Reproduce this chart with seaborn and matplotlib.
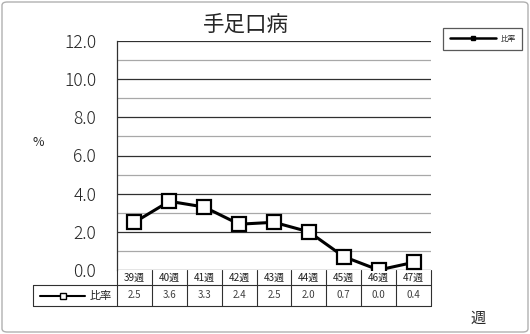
import matplotlib
matplotlib.use("Agg")
import matplotlib.pyplot as plt
from matplotlib.lines import Line2D
from matplotlib.patches import FancyBboxPatch
import seaborn as sns
import pandas as pd

weeks = ["39週", "40週", "41週", "42週", "43週", "44週", "45週", "46週", "47週"]
ratio = [2.5, 3.6, 3.3, 2.4, 2.5, 2.0, 0.7, 0.0, 0.4]
series_name = "比率"
title = "手足口病"
y_ticks = [0, 2, 4, 6, 8, 10, 12]

sns.set_theme(style="white")
plt.rcParams["font.family"] = ["Noto Sans CJK JP", "DejaVu Sans"]

W, H = 530, 334
fig = plt.figure(figsize=(W / 100, H / 100), dpi=100)

# plot area in pixel terms
L, R, T, B = 117, 431, 41, 270
ax = fig.add_axes([L / W, 1 - B / H, (R - L) / W, (B - T) / H])

df = pd.DataFrame({"pos": range(len(weeks)), "ratio": ratio})

# gridlines: major every 2, minor every 1
for v in range(0, 13):
    if v % 2 == 0:
        ax.axhline(v, color="#303030", lw=0.9, zorder=1)
    else:
        ax.axhline(v, color="#a8a8a8", lw=0.9, zorder=1)

sns.lineplot(data=df, x="pos", y="ratio", ax=ax, color="black", lw=2.2,
             marker="s", markersize=10, markerfacecolor="white",
             markeredgecolor="black", markeredgewidth=1.6, zorder=3,
             legend=False)

ax.set_xlim(-0.5, len(weeks) - 0.5)
ax.set_ylim(0, 12)
ax.set_yticks(y_ticks)
ax.set_yticklabels([f"{v:.1f}" for v in y_ticks], fontsize=12.5,
                   fontweight="light")
ax.tick_params(axis="y", length=0, pad=15)
ax.set_xticks([])
ax.set_xlabel("")
ax.set_ylabel("")
for s in ["top", "right", "bottom"]:
    ax.spines[s].set_visible(False)
ax.spines["left"].set_color("#303030")
ax.spines["left"].set_linewidth(0.9)
ax.set_facecolor("white")

# data table beneath the plot
axh = B - T
row1 = -15 / axh
row2 = -36 / axh
left_cell = -(L - 33) / (R - L)
trans = ax.get_xaxis_transform()
lc = "#303030"
tl = dict(color=lc, lw=0.8, clip_on=False, zorder=4)
ax.plot([-0.5, len(weeks) - 0.5], [row1, row1], transform=trans, **tl)
ax.plot([left_cell, 1], [row2, row2], transform=ax.transAxes, **tl)
ax.plot([left_cell, 0], [row1, row1], transform=ax.transAxes, **tl)
ax.plot([left_cell, left_cell], [row1, row2], transform=ax.transAxes, **tl)
for i in range(len(weeks) + 1):
    x = i - 0.5
    ax.plot([x, x], [0, row2], transform=trans, **tl)
for i, (wk, v) in enumerate(zip(weeks, ratio)):
    ax.text(i, row1 / 2, wk, transform=trans, ha="center", va="center",
            fontsize=7.2, color="#202020")
    ax.text(i, (row1 + row2) / 2, f"{v:.1f}", transform=trans, ha="center",
            va="center", fontsize=7, color="#404040")

# series key inside the table's left cell
ym = (row1 + row2) / 2
x0 = left_cell + 7 / (R - L)
x1 = left_cell + 52 / (R - L)
ax.plot([x0, x1], [ym, ym], transform=ax.transAxes, color="black", lw=1.5,
        clip_on=False, zorder=5)
ax.plot([(x0 + x1) / 2], [ym], transform=ax.transAxes, marker="s",
        markersize=5, markerfacecolor="white", markeredgecolor="black",
        markeredgewidth=1.0, clip_on=False, zorder=6)
ax.text(left_cell + 57 / (R - L), ym, series_name, transform=ax.transAxes,
        ha="left", va="center", fontsize=8, color="#202020")

# title and axis labels
fig.text(246 / W, 1 - 25 / H, title, ha="center", va="center", fontsize=15.5)
fig.text(38 / W, 1 - 143 / H, "%", ha="center", va="center", fontsize=9)
fig.text(478 / W, 1 - 318 / H, "週", ha="center", va="center", fontsize=11)

# legend at top right
handle = Line2D([], [], color="black", lw=1.8, marker="s", markersize=2.5,
                markerfacecolor="black")
leg = fig.legend([handle], [series_name], loc="upper left",
                 bbox_to_anchor=(443 / W, 1 - 28 / H), fontsize=5.5,
                 frameon=True, fancybox=False, handlelength=6.0,
                 borderpad=0.9, handletextpad=0.6, borderaxespad=0)
leg.get_frame().set_edgecolor("#303030")
leg.get_frame().set_linewidth(0.9)

# outer border
fig.patches.append(FancyBboxPatch((2 / W, 2 / H), 1 - 4 / W, 1 - 4 / H,
                                  boxstyle="round,pad=0,rounding_size=0.01",
                                  transform=fig.transFigure, fill=False,
                                  edgecolor="#b0b0b0", lw=1.0))

fig.savefig("out.png", dpi=100, facecolor="white")
